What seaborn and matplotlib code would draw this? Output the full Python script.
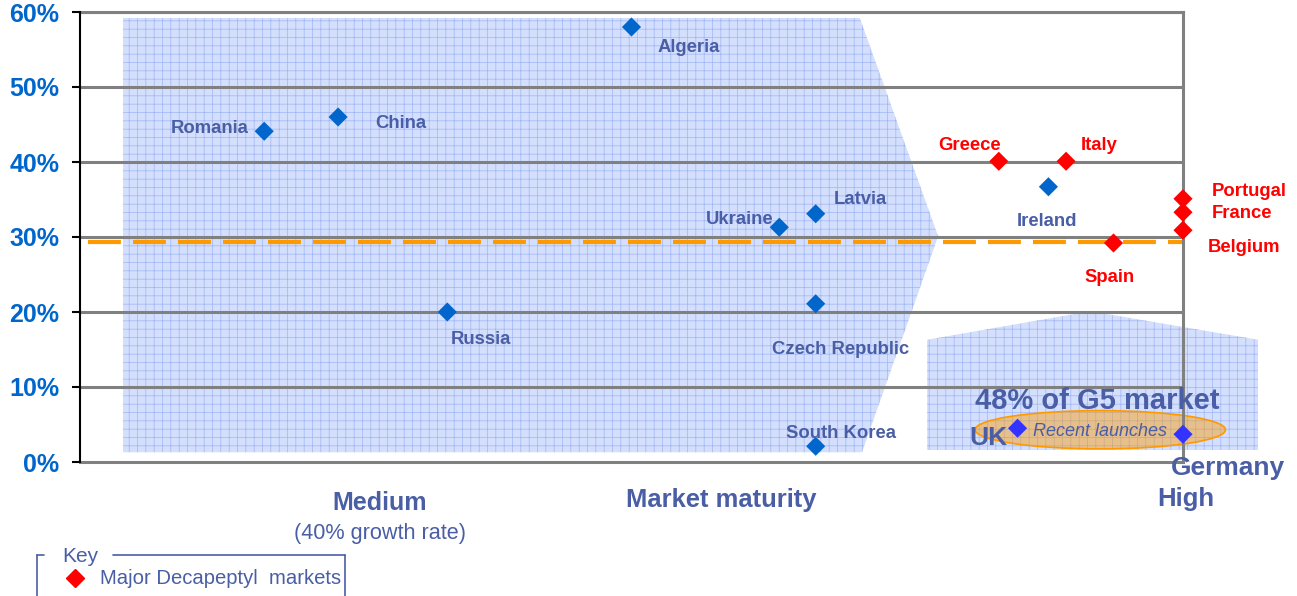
"""
Market maturity vs growth rate chart for Decapeptyl markets.
"""
import numpy as np
import pandas as pd
import seaborn as sns
import matplotlib.pyplot as plt
from matplotlib.patches import Polygon, Ellipse
from matplotlib.lines import Line2D

# --------------------------
# DATA
# --------------------------
countries = ["Romania", "China", "Algeria", "Russia", "Ukraine", "Latvia",
             "Czech Republic", "South Korea", "Greece", "Italy", "Ireland",
             "Spain", "Portugal", "France", "Belgium", "UK", "Germany"]
maturity = [16.7, 23.4, 50.0, 33.3, 63.4, 66.7, 66.7, 66.7, 83.3, 89.4, 87.8,
            93.7, 100.0, 100.0, 100.0, 85.0, 100.0]
growth = [44.1, 46.0, 58.0, 20.0, 31.3, 33.1, 21.1, 2.1, 40.1, 40.1, 36.7,
          29.2, 35.1, 33.3, 30.9, 4.5, 3.7]
group = ["other"] * 8 + ["major", "major", "other", "major", "major",
                         "major", "major", "launch", "launch"]
avg_growth = 29.3
yticks = [0, 10, 20, 30, 40, 50, 60]
ytick_labels = ["0%", "10%", "20%", "30%", "40%", "50%", "60%"]

df = pd.DataFrame({"country": countries, "maturity": maturity,
                   "growth": growth, "group": group})

# --------------------------
# STYLE
# --------------------------
sns.set_style("white")
plt.rcParams["font.family"] = ["Liberation Sans", "DejaVu Sans"]
plt.rcParams["hatch.linewidth"] = 0.5

SLATE = "#4a5ea6"
BLUE = "#0066cc"
RED = "#ff0000"
palette = {"other": BLUE, "major": RED, "launch": "#3333ff"}

W, H = 1297, 596
fig = plt.figure(figsize=(W / 100, H / 100), dpi=100)
ax = fig.add_axes([80 / W, 134 / H, 1103 / W, 450 / H])
ax.set_xlim(0, 100)
ax.set_ylim(0, 60)


def fig_xy(px, py):
    return px / W, 1 - py / H


# background shapes (hatched light blue)
arrow = Polygon([(3.9, 1.3), (3.9, 59.2), (70.7, 59.2), (77.8, 30.1), (70.9, 1.3)],
                closed=True, facecolor="#d3dffc", edgecolor="#9fb6f6",
                hatch="++", lw=0, zorder=0, clip_on=False)
ax.add_patch(arrow)
penta = Polygon([(76.8, 1.6), (76.8, 16.3), (91.6, 20.1), (106.8, 16.3), (106.8, 1.6)],
                closed=True, facecolor="#d3dffc", edgecolor="#9fb6f6",
                hatch="++", lw=0, zorder=0, clip_on=False)
ax.add_patch(penta)

# grid lines
for y in yticks[1:]:
    ax.axhline(y, color="#808080", lw=2.2, zorder=1)

# recent launches ellipse
ax.add_patch(Ellipse((92.5, 4.3), 22.7, 5.1, facecolor=(1.0, 0.6, 0.0, 0.45),
                     edgecolor="#ff9900", lw=1.2, zorder=1.5, clip_on=False))

# average growth line
ax.plot([0.73, 100], [avg_growth, avg_growth], color="#ff9900", lw=3,
        dashes=(7.9, 2.9), zorder=2)

sns.scatterplot(data=df, x="maturity", y="growth", hue="group", palette=palette,
                marker="D", s=95, edgecolor="none", legend=False, ax=ax,
                zorder=3, clip_on=False)

# spines and ticks
for side in ["top", "right", "bottom"]:
    ax.spines[side].set_color("#808080")
    ax.spines[side].set_linewidth(2.2)
ax.spines["left"].set_color("black")
ax.spines["left"].set_linewidth(1.5)
ax.spines["left"].set_zorder(4)
ax.set_xticks([])
ax.set_yticks(yticks)
ax.set_yticklabels(ytick_labels, fontsize=18, fontweight="bold", color=BLUE)
ax.tick_params(axis="y", length=6, width=1.5, color="black", pad=9, left=True)
ax.set_xlabel("")
ax.set_ylabel("")

# country labels (pixel anchor, alignment)
label_pos = {
    "Algeria": (658, 48, "left"), "Romania": (249, 129, "right"),
    "China": (375, 124, "left"), "Russia": (451, 339, "left"),
    "Ukraine": (774, 220, "right"), "Latvia": (834, 200, "left"),
    "Czech Republic": (841, 349, "center"), "South Korea": (841, 434, "center"),
    "Greece": (1001, 146, "right"), "Italy": (1081, 145, "left"),
    "Ireland": (1047, 221, "center"), "Spain": (1110, 277, "center"),
    "Portugal": (1212, 191, "left"), "France": (1212, 214, "left"),
    "Belgium": (1208, 247, "left"),
}
for c, g in zip(countries, group):
    if c not in label_pos:
        continue
    px, py, ha = label_pos[c]
    fx, fy = fig_xy(px, py)
    fig.text(fx, fy, c, ha=ha, va="center", fontsize=13.3, fontweight="bold",
             color=RED if g == "major" else SLATE)

# big annotations
fig.text(*fig_xy(1097, 401), "48% of G5 market", ha="center", va="center",
         fontsize=21, fontweight="bold", color=SLATE)
fig.text(*fig_xy(1100, 431), "Recent launches", ha="center", va="center",
         fontsize=13, style="italic", color=SLATE)
fig.text(*fig_xy(988, 438), "UK", ha="center", va="center",
         fontsize=19, fontweight="bold", color=SLATE)
fig.text(*fig_xy(1228, 468), "Germany", ha="center", va="center",
         fontsize=19, fontweight="bold", color=SLATE)
fig.text(*fig_xy(1186, 499), "High", ha="center", va="center",
         fontsize=18.5, fontweight="bold", color=SLATE)
fig.text(*fig_xy(380, 503), "Medium", ha="center", va="center",
         fontsize=18, fontweight="bold", color=SLATE)
fig.text(*fig_xy(380, 533), "(40% growth rate)", ha="center", va="center",
         fontsize=15.6, color=SLATE)
fig.text(*fig_xy(721, 500), "Market maturity", ha="center", va="center",
         fontsize=18.4, fontweight="bold", color=SLATE)

# key box
for xs, ys in [([37, 37], [596, 555]), ([37, 44], [555, 555]),
               ([113, 345], [555, 555]), ([345, 345], [555, 596])]:
    fig.add_artist(Line2D([x / W for x in xs], [1 - y / H for y in ys],
                          color=SLATE, lw=1.2))
fig.text(*fig_xy(62, 556), "Key", ha="left", va="center", fontsize=15, color=SLATE)
fx, fy = fig_xy(75, 578)
fig.add_artist(Line2D([fx], [fy], marker="D", color=RED, markersize=9.5, lw=0))
fig.text(*fig_xy(100, 579), "Major Decapeptyl  markets", ha="left", va="center",
         fontsize=14.6, color=SLATE)

plt.savefig("out.png", dpi=100)
